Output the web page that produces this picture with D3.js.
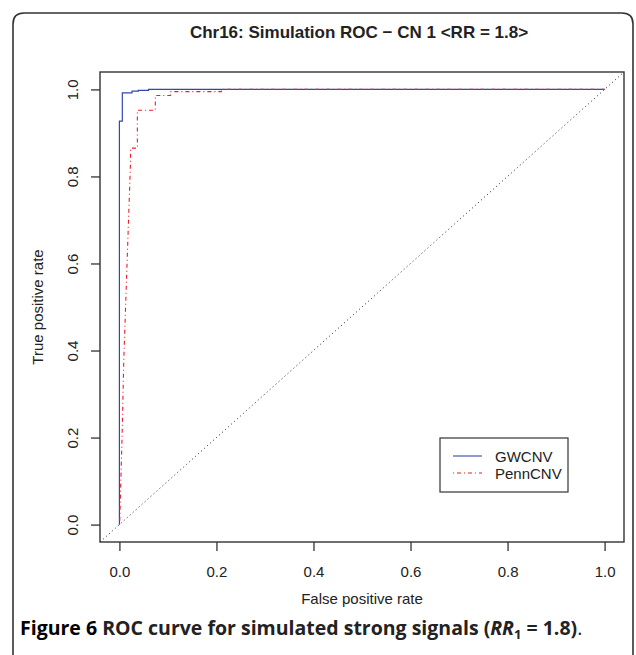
<!DOCTYPE html>
<html lang="en">
<head>
<meta charset="utf-8">
<title>ROC curve</title>
<script src="https://cdn.jsdelivr.net/npm/d3@7"></script>
<style>
  body { margin: 0; background: #fff; }
  svg text { font-family: "Liberation Sans", Arial, sans-serif; fill: #222; }
</style>
</head>
<body>
<script>
// ROC curves (FPR, TPR)
var gwcnvFpr = [0, 0, 0.006, 0.006, 0.026, 0.026, 0.039, 0.039, 0.06, 0.06, 1];
var gwcnvTpr = [0, 0.927, 0.927, 0.992, 0.992, 0.996, 0.996, 0.998, 0.998, 1, 1];

var pennFpr = [0, 0.0006, 0.006, 0.009, 0.016, 0.023, 0.023, 0.037, 0.037, 0.074, 0.074, 0.105, 0.105, 0.21, 0.21, 1];
var pennTpr = [0, 0.005, 0.225, 0.378, 0.608, 0.837, 0.865, 0.865, 0.952, 0.952, 0.986, 0.986, 0.995, 0.995, 1, 1];

var xTicks = [0, 0.2, 0.4, 0.6, 0.8, 1.0];
var yTicks = [0, 0.2, 0.4, 0.6, 0.8, 1.0];
var legendNames = ["GWCNV", "PennCNV"];

var w = 636, h = 655;
var margin = {top: 72, right: 12, bottom: 113, left: 100};

var svg = d3.select("body").append("svg")
  .attr("width", w)
  .attr("height", h);

// outer frame of the figure panel
svg.append("path")
  .attr("d", "M13,670 L13,24 Q13,13 24,13 L622,13 Q633,13 633,24 L633,670")
  .attr("fill", "none")
  .attr("stroke", "#333")
  .attr("stroke-width", 1.6);

var x = d3.scaleLinear().domain([-0.04, 1.04]).range([margin.left, w - margin.right]);
var y = d3.scaleLinear().domain([-0.04, 1.04]).range([h - margin.bottom, margin.top]);

var fmt = d3.format(".1f");

// x axis
var gx = svg.append("g")
  .attr("transform", "translate(0," + (h - margin.bottom) + ")")
  .call(d3.axisBottom(x).tickValues(xTicks).tickFormat(fmt).tickSize(9));
gx.select(".domain").remove();
gx.selectAll("line").attr("stroke", "#333").attr("stroke-width", 1.3);
gx.selectAll("text")
  .attr("font-size", 15).attr("fill", "#222")
  .attr("font-family", "Liberation Sans, Arial, sans-serif")
  .attr("y", 35).attr("dy", null);

// y axis with rotated labels
var gy = svg.append("g")
  .attr("transform", "translate(" + margin.left + ",0)")
  .call(d3.axisLeft(y).tickValues(yTicks).tickFormat(fmt).tickSize(9).tickPadding(0));
gy.select(".domain").remove();
gy.selectAll("line").attr("stroke", "#333").attr("stroke-width", 1.3);
gy.selectAll("text")
  .attr("font-size", 15).attr("fill", "#222")
  .attr("font-family", "Liberation Sans, Arial, sans-serif")
  .attr("x", null).attr("dy", null)
  .attr("text-anchor", "middle")
  .attr("transform", "translate(-22,0) rotate(-90)");

// plot box
svg.append("rect")
  .attr("x", x(-0.04)).attr("y", y(1.04))
  .attr("width", x(1.04) - x(-0.04))
  .attr("height", y(-0.04) - y(1.04))
  .attr("fill", "none")
  .attr("stroke", "#333")
  .attr("stroke-width", 1.4);

// diagonal reference
svg.append("line")
  .attr("x1", x(-0.04)).attr("y1", y(-0.04))
  .attr("x2", x(1.04)).attr("y2", y(1.04))
  .attr("stroke", "#222")
  .attr("stroke-width", 1)
  .attr("stroke-dasharray", "1,3");

var line = d3.line()
  .x(function(d) { return x(d[0]); })
  .y(function(d) { return y(d[1]); });

var gwcnv = gwcnvFpr.map(function(v, i) { return [v, gwcnvTpr[i]]; });
var penn = pennFpr.map(function(v, i) { return [v, pennTpr[i]]; });

svg.append("path")
  .datum(gwcnv)
  .attr("d", line)
  .attr("fill", "none")
  .attr("stroke", "#3347b0")
  .attr("stroke-width", 1.2);

svg.append("path")
  .datum(penn)
  .attr("d", line)
  .attr("fill", "none")
  .attr("stroke", "#f01c26")
  .attr("stroke-width", 1.1)
  .attr("stroke-dasharray", "1,3,4,3");

// title
svg.append("text")
  .attr("x", (x(-0.04) + x(1.04)) / 2 - 3)
  .attr("y", 38)
  .attr("text-anchor", "middle")
  .attr("font-size", 17)
  .attr("font-weight", "bold")
  .attr("fill", "#111")
  .text("Chr16: Simulation ROC \u2212 CN 1 <RR = 1.8>");

// axis labels
svg.append("text")
  .attr("x", (x(-0.04) + x(1.04)) / 2)
  .attr("y", 604)
  .attr("text-anchor", "middle")
  .attr("font-size", 15)
  .text("False positive rate");

svg.append("text")
  .attr("transform", "translate(43," + ((y(-0.04) + y(1.04)) / 2) + ") rotate(-90)")
  .attr("text-anchor", "middle")
  .attr("font-size", 15)
  .text("True positive rate");

// legend
var lg = svg.append("g").attr("transform", "translate(440,438)");
lg.append("rect")
  .attr("width", 128).attr("height", 54)
  .attr("fill", "#fff")
  .attr("stroke", "#333")
  .attr("stroke-width", 1.2);
var lstyles = [
  {stroke: "#3347b0", dash: null},
  {stroke: "#f01c26", dash: "1,3,4,3"}
];
legendNames.forEach(function(name, i) {
  var yy = 18 + i * 17;
  lg.append("line")
    .attr("x1", 13).attr("x2", 42)
    .attr("y1", yy).attr("y2", yy)
    .attr("stroke", lstyles[i].stroke)
    .attr("stroke-width", 1.1)
    .attr("stroke-dasharray", lstyles[i].dash);
  lg.append("text")
    .attr("x", 55).attr("y", yy + 5.5)
    .attr("font-size", 15)
    .text(name);
});

// caption
var cap = svg.append("text")
  .attr("x", 20).attr("y", 635)
  .attr("font-size", 19.5)
  .style("font-family", "'Open Sans', Lato, sans-serif")
  .attr("font-weight", "bold");
cap.append("tspan").attr("fill", "#000").text("Figure 6 ");
cap.append("tspan").attr("fill", "#222").text("ROC curve for simulated strong signals (");
cap.append("tspan").attr("fill", "#222").attr("font-style", "italic").text("RR");
cap.append("tspan").attr("fill", "#222").attr("font-size", 13).attr("dy", 4).text("1");
cap.append("tspan").attr("fill", "#222").attr("dy", -4).text(" = 1.8)");
cap.append("tspan").attr("fill", "#222").attr("font-weight", "normal").text(".");
</script>
</body>
</html>
